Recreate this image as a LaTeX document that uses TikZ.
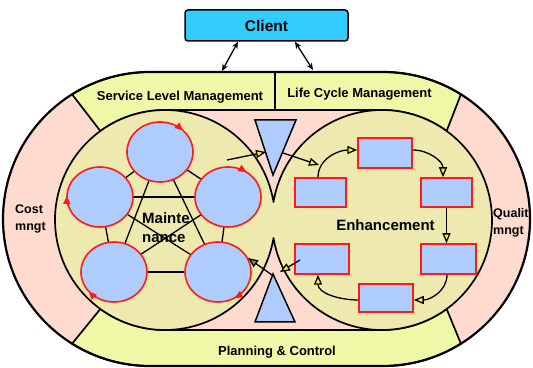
\documentclass[tikz,border=0pt]{standalone}
\usepackage{fontspec}
\setmainfont{Liberation Sans}
\usetikzlibrary{arrows.meta,shapes.geometric,calc}
\definecolor{pinkband}{HTML}{FFDBCF}
\definecolor{yband}{HTML}{EFF8A6}
\definecolor{khaki}{HTML}{EDE9AF}
\definecolor{lblue}{HTML}{AFCCFF}
\definecolor{cyanbox}{HTML}{33CCFF}
\definecolor{redb}{HTML}{FF1A1A}
\definecolor{tipyel}{HTML}{FFFF00}
\begin{document}
\begin{tikzpicture}[x=1pt,y=1pt,
  border/.style={draw=black,line width=1.7pt,line join=round},
  mcirc/.style={ellipse,draw=redb,line width=1.6pt,fill=lblue,minimum width=66pt,minimum height=60pt,inner sep=0pt},
  erect/.style={rectangle,draw=redb,line width=1.5pt,fill=lblue,inner sep=0pt},
  tri/.style={draw=black,line width=1.5pt,fill=lblue,line join=miter},
  yarrow/.style={black,line width=1.3pt,-{Triangle[length=10pt,width=8pt,fill=tipyel]}},
  karrow/.style={black,line width=1.3pt,-{Triangle[length=10pt,width=8pt,fill=khaki!60!black]}},
  carrow/.style={black,line width=1.3pt,{Stealth[length=7pt,width=6pt]}-{Stealth[length=7pt,width=6pt]}},
  redtip/.style={draw=redb,line width=1.6pt,-{Triangle[length=8pt,width=7pt]}},
  mline/.style={black,line width=1.3pt},
  lbl/.style={font=\bfseries\fontsize{13}{15}\selectfont,inner sep=0pt},
  side/.style={font=\bfseries\fontsize{12.5}{17}\selectfont,align=left,inner sep=0pt,anchor=north west}
]
\useasboundingbox (0,0) rectangle (533,367);
% outer stadium fill
\path[fill=pinkband] (150,295) -- (383,295) arc[start angle=90,end angle=-90,radius=147] -- (150,1) arc[start angle=270,end angle=90,radius=147] -- cycle;
% top band
\filldraw[fill=yband,border] ($(150,148)+(122:147)$) arc[start angle=122,end angle=90,radius=147] -- (383,295) arc[start angle=90,end angle=58,radius=147] -- ($(382,147)+(54:110)$) arc[start angle=54,end angle=90,radius=110] -- (165,257) arc[start angle=90,end angle=126,radius=110] -- cycle;
% bottom band
\filldraw[fill=yband,border] ($(150,148)+(238:147)$) arc[start angle=238,end angle=270,radius=147] -- (383,1) arc[start angle=270,end angle=302,radius=147] -- ($(382,147)+(306:110)$) arc[start angle=306,end angle=270,radius=110] -- (165,37) arc[start angle=270,end angle=234,radius=110] -- cycle;
% khaki union of two circles
\filldraw[fill=khaki,border] ($(165,147)+(9.47:110)$) arc[start angle=9.47,end angle=350.53,radius=110] arc[start angle=189.47,end angle=530.53,radius=110] -- cycle;
% outer border
\draw[black,line width=2.2pt] (150,295) -- (383,295) arc[start angle=90,end angle=-90,radius=147] -- (150,1) arc[start angle=270,end angle=90,radius=147] -- cycle;
\draw[border] (275,295) -- (275,257);
% triangles
\draw[tri] (255,247) -- (296,247) -- (273,192) -- cycle;
\draw[tri] (255,45) -- (295,45) -- (273,93) -- cycle;
% maintenance
\coordinate (c1) at (160,215);
\coordinate (c2) at (100,170);
\coordinate (c3) at (228,170);
\coordinate (c4) at (114,95);
\coordinate (c5) at (218,95);
\foreach \a/\b in {c1/c2,c1/c3,c1/c4,c1/c5,c2/c3,c2/c4,c2/c5,c3/c4,c3/c5,c4/c5}
  \draw[mline] (\a) -- (\b);
\node[mcirc] (m1) at (c1) {};
\node[mcirc] (m2) at (c2) {};
\node[mcirc] (m3) at (c3) {};
\node[mcirc] (m4) at (c4) {};
\node[mcirc] (m5) at (c5) {};
\draw[redtip] ($(m1.center)+(62:33 and 30)$) arc[start angle=62,end angle=46,x radius=33,y radius=30];
\draw[redtip] ($(m3.center)+(70:33 and 30)$) arc[start angle=70,end angle=56,x radius=33,y radius=30];
\draw[redtip] ($(m2.center)+(196:33 and 30)$) arc[start angle=196,end angle=178,x radius=33,y radius=30];
\draw[redtip] ($(m4.center)+(236:33 and 30)$) arc[start angle=236,end angle=220,x radius=33,y radius=30];
\draw[redtip] ($(m5.center)+(316:33 and 30)$) arc[start angle=316,end angle=300,x radius=33,y radius=30];
\node[font=\bfseries\fontsize{15}{19}\selectfont,align=left,inner sep=0pt,anchor=north west] (mtext) at (142,155) {Mainte\\nance};
% enhancement
\node[erect,minimum width=54pt,minimum height=30pt] (r1) at (385,214) {};
\node[erect,minimum width=51pt,minimum height=29pt] (r2) at (320.5,174.5) {};
\node[erect,minimum width=51pt,minimum height=29pt] (r3) at (446.5,174.5) {};
\node[erect,minimum width=54pt,minimum height=30pt] (r4) at (322,108) {};
\node[erect,minimum width=55pt,minimum height=30pt] (r5) at (448.5,108) {};
\node[erect,minimum width=54pt,minimum height=28pt] (r6) at (386,69) {};
\draw[yarrow] ([xshift=-2.5pt]r2.north) to[out=90,in=180] ([yshift=3pt]r1.west);
\draw[yarrow] ([yshift=3pt]r1.east) to[out=0,in=90] ([xshift=-3.5pt]r3.north);
\draw[yarrow] (r3.south) -- (r3.south |- r5.north);
\draw[yarrow] ([xshift=-1.5pt]r5.south) to[out=270,in=0] ([yshift=-2pt]r6.east);
\draw[yarrow] ([yshift=-2pt]r6.west) to[out=180,in=270] ([xshift=-4pt]r4.south);
\node[font=\bfseries\fontsize{15}{18}\selectfont,inner sep=0pt] (etext) at (385.5,141.5) {Enhancement};
% cross arrows
\coordinate (ma) at (227,207);
\coordinate (t1l) at (266,215);
\coordinate (t1r) at (283,214);
\coordinate (e1) at (319,202);
\coordinate (e4) at (300,107);
\coordinate (t2r) at (280,95);
\coordinate (t2l) at (272,92);
\coordinate (m5e) at (248,109);
\draw[yarrow] (ma) -- (t1l);
\draw[yarrow] (t1r) -- (e1);
\draw[yarrow] (e4) -- (t2r);
\draw[karrow] (t2l) -- (m5e);
% labels
\node[lbl] (slm) at (180,270) {Service Level Management};
\node[lbl] (lcm) at (359.5,273) {Life Cycle Management};
\node[lbl] (pc) at (277,15) {Planning \& Control};
\node[side] (cost) at (15,162) {Cost\\mngt};
\node[side] (qual) at (493,159) {Qualit\\mngt};
% client
\node[draw=black,line width=1.5pt,rounded corners=3pt,fill=cyanbox,minimum width=163pt,minimum height=31pt,inner sep=0pt,font=\bfseries\fontsize{15.5}{18}\selectfont] (client) at (266.5,341.5) {Client};
\coordinate (sa) at (222,296);
\coordinate (sb) at (313,297);
\draw[carrow] ([xshift=-28.5pt]client.south) -- (sa);
\draw[carrow] ([xshift=28.5pt]client.south) -- (sb);
\end{tikzpicture}
\end{document}
